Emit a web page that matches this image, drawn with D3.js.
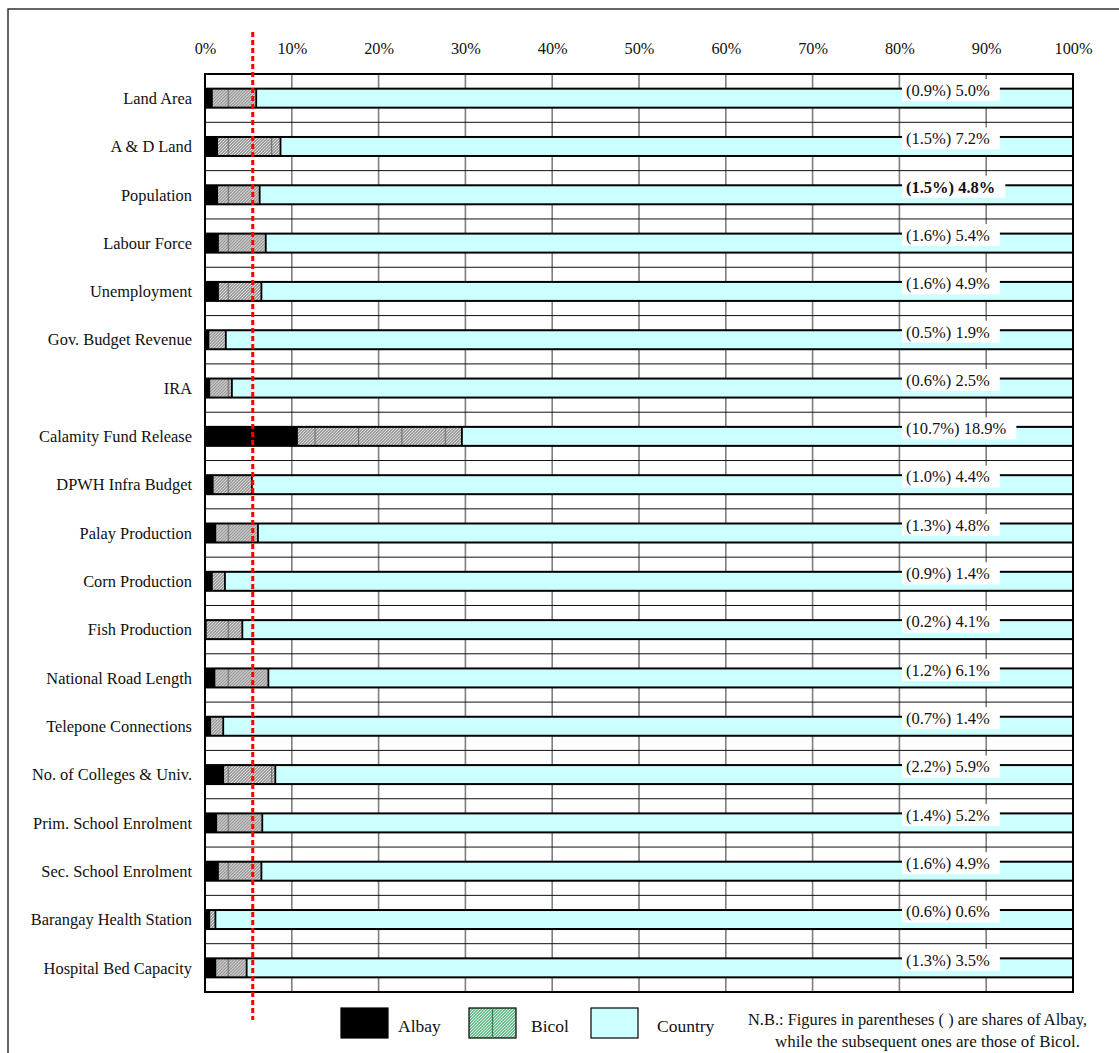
<!DOCTYPE html>
<html>
<head>
<meta charset="utf-8">
<script src="https://cdn.jsdelivr.net/npm/d3@7"></script>
<style>
  body { margin: 0; background: #fff; }
  svg { display: block; }
  text { font-family: "Liberation Serif", "Times New Roman", serif; fill: #111; }
</style>
</head>
<body>
<script>
// Indicators compared across Albay, the Bicol region and the whole country
const categories = [
  "Land Area", "A & D Land", "Population", "Labour Force", "Unemployment",
  "Gov. Budget Revenue", "IRA", "Calamity Fund Release", "DPWH Infra Budget",
  "Palay Production", "Corn Production", "Fish Production", "National Road Length",
  "Telepone Connections", "No. of Colleges & Univ.", "Prim. School Enrolment",
  "Sec. School Enrolment", "Barangay Health Station", "Hospital Bed Capacity"
];
// Share of national total held by Albay (%)
const albayShare = [0.9, 1.5, 1.5, 1.6, 1.6, 0.5, 0.6, 10.7, 1.0, 1.3, 0.9, 0.2, 1.2, 0.7, 2.2, 1.4, 1.6, 0.6, 1.3];
// Share of national total held by Bicol (%)
const bicolShare = [5.0, 7.2, 4.8, 5.4, 4.9, 1.9, 2.5, 18.9, 4.4, 4.8, 1.4, 4.1, 6.1, 1.4, 5.9, 5.2, 4.9, 0.6, 3.5];
// Row whose figures are emphasised
const emphasised = ["Population"];
// Axis ticks (%)
const xTicks = [0, 10, 20, 30, 40, 50, 60, 70, 80, 90, 100];
// Reference share marked by the red dotted line (%)
const referenceShare = 5.5;
const legendLabels = ["Albay", "Bicol", "Country"];
const noteLines = [
  "N.B.: Figures in parentheses ( ) are shares of Albay,",
  "while the subsequent ones are those of Bicol."
];

const W = 1119, H = 1053;
const svg = d3.select("body").append("svg").attr("width", W).attr("height", H);
const defs = svg.append("defs");

// Fine diagonal hatch used for the Bicol segments
const hatch = defs.append("pattern").attr("id", "hatchGray")
  .attr("patternUnits", "userSpaceOnUse").attr("width", 3).attr("height", 3);
hatch.append("rect").attr("width", 3).attr("height", 3).attr("fill", "#9c9c9c");
hatch.append("path").attr("d", "M-1,1 L1,-1 M0,3 L3,0 M2,4 L4,2")
  .attr("stroke", "#e6e6e6").attr("stroke-width", 0.9);

// Periodic vertical strokes seen through the hatch
const strokes = defs.append("pattern").attr("id", "hatchLines")
  .attr("patternUnits", "userSpaceOnUse").attr("width", 43.4).attr("height", 10)
  .attr("x", 227.7 - 43.4 * 5);
strokes.append("line").attr("x1", 0.5).attr("x2", 0.5).attr("y1", 0).attr("y2", 10)
  .attr("stroke", "#6e6e6e").attr("stroke-width", 1.3);

// Green hatch for the legend swatch
const hatchG = defs.append("pattern").attr("id", "hatchGreen")
  .attr("patternUnits", "userSpaceOnUse").attr("width", 3).attr("height", 3);
hatchG.append("rect").attr("width", 3).attr("height", 3).attr("fill", "#6fbf92");
hatchG.append("path").attr("d", "M-1,1 L1,-1 M0,3 L3,0 M2,4 L4,2")
  .attr("stroke", "#e4f7ea").attr("stroke-width", 0.9);

// Outer frame
svg.append("rect").attr("x", 8).attr("y", 9).attr("width", 1200).attr("height", 1100)
  .attr("fill", "none").attr("stroke", "#333").attr("stroke-width", 1.5);

const x = d3.scaleLinear().domain([0, 100]).range([205, 1073]);
const y = d3.scaleBand().domain(categories).range([74, 992]);
const barH = 19;

// Top axis labels
const axis = svg.append("g").attr("transform", "translate(0,74)")
  .call(d3.axisTop(x).tickValues(xTicks).tickFormat(d => d + "%").tickSize(0).tickPadding(0));
axis.select(".domain").remove();
axis.selectAll("text")
  .attr("y", -26).attr("dy", "0.35em")
  .style("font-family", '"Liberation Serif", "Times New Roman", serif')
  .style("font-size", "16.3px").attr("fill", "#111");

// Vertical gridlines
svg.append("g").selectAll("line").data(xTicks.slice(1, -1)).join("line")
  .attr("x1", d => x(d)).attr("x2", d => x(d))
  .attr("y1", y.range()[0]).attr("y2", y.range()[1])
  .attr("stroke", "#7f7f7f").attr("stroke-width", 1.6);

// Horizontal row boundaries
svg.append("g").selectAll("line").data(categories.slice(1)).join("line")
  .attr("x1", x(0)).attr("x2", x(100))
  .attr("y1", d => y(d)).attr("y2", d => y(d))
  .attr("stroke", "#111").attr("stroke-width", 1);

// Stacked bars
const rows = categories.map((c, i) => ({ c, a: albayShare[i], b: bicolShare[i] }));
const bars = svg.append("g").selectAll("g").data(rows).join("g")
  .attr("transform", d => `translate(0,${y(d.c) + y.bandwidth() / 2 - barH / 2})`);

bars.append("rect").attr("x", x(0)).attr("width", d => x(100) - x(0)).attr("height", barH)
  .attr("fill", "#ccffff");
bars.append("rect").attr("x", d => x(d.a)).attr("width", d => x(d.a + d.b) - x(d.a))
  .attr("height", barH).attr("fill", "url(#hatchGray)");
bars.append("rect").attr("x", d => x(d.a)).attr("width", d => x(d.a + d.b) - x(d.a))
  .attr("height", barH).attr("fill", "url(#hatchLines)");
bars.append("rect").attr("x", x(0)).attr("width", d => x(d.a) - x(0)).attr("height", barH)
  .attr("fill", "#000");
// Outline and divider between the Bicol and Country parts
bars.append("rect").attr("x", x(0)).attr("width", x(100) - x(0)).attr("height", barH)
  .attr("fill", "none").attr("stroke", "#000").attr("stroke-width", 2);
bars.append("line").attr("x1", d => x(d.a + d.b)).attr("x2", d => x(d.a + d.b))
  .attr("y1", 0).attr("y2", barH).attr("stroke", "#000").attr("stroke-width", 1.8);

// Plot border
svg.append("rect").attr("x", x(0)).attr("y", y.range()[0])
  .attr("width", x(100) - x(0)).attr("height", y.range()[1] - y.range()[0])
  .attr("fill", "none").attr("stroke", "#000").attr("stroke-width", 2);

// Category labels
svg.append("g").selectAll("text").data(categories).join("text")
  .attr("x", 192).attr("y", d => y(d) + y.bandwidth() / 2)
  .attr("dy", "0.35em").attr("text-anchor", "end")
  .style("font-size", "16.4px").text(d => d);

// Value labels with white backing boxes
const fmt = d3.format(".1f");
const labels = svg.append("g").selectAll("g").data(rows).join("g")
  .attr("transform", d => `translate(906,${y(d.c) + y.bandwidth() / 2 - 8})`);
labels.append("rect").attr("class", "bg").attr("fill", "#fff");
labels.append("text").attr("x", 0).attr("y", 0).attr("dy", "0.35em")
  .style("font-size", "16.5px")
  .style("font-weight", d => emphasised.includes(d.c) ? "bold" : "normal")
  .text(d => `(${fmt(d.a)}%) ${fmt(d.b)}%`);
labels.each(function () {
  const g = d3.select(this);
  const w = g.select("text").node().getComputedTextLength();
  g.select("rect.bg").attr("x", -4).attr("y", -11).attr("width", w + 14).attr("height", 22);
});

// Red dotted reference line
svg.append("line").attr("x1", x(referenceShare)).attr("x2", x(referenceShare))
  .attr("y1", 32).attr("y2", 1020)
  .attr("stroke", "#ff0000").attr("stroke-width", 3).attr("stroke-dasharray", "5,3");

// Legend
const legendFills = ["#000", "url(#hatchGreen)", "#ccffff"];
const legendX = [341, 469, 591];
const lg = svg.append("g").selectAll("g").data(legendLabels).join("g")
  .attr("transform", (d, i) => `translate(${legendX[i]},1008)`);
lg.append("rect").attr("width", 47).attr("height", 30)
  .attr("fill", (d, i) => legendFills[i]).attr("stroke", "#000").attr("stroke-width", 1.2);
lg.filter((d, i) => i === 1).append("line").attr("x1", 23.5).attr("x2", 23.5)
  .attr("y1", 0).attr("y2", 30).attr("stroke", "#2f7f55").attr("stroke-width", 1.2);
lg.append("text").attr("x", (d, i) => [57, 62, 66][i]).attr("y", 18).attr("dy", "0.35em")
  .style("font-size", "17.5px").text(d => d);

// Note
const noteX = [748, 775], noteLen = [339, 305];
svg.append("g").selectAll("text").data(noteLines).join("text")
  .attr("x", (d, i) => noteX[i]).attr("y", (d, i) => 1019 + i * 22)
  .attr("dy", "0.35em").style("font-size", "16.2px")
  .attr("textLength", (d, i) => noteLen[i]).attr("lengthAdjust", "spacingAndGlyphs")
  .text(d => d);
</script>
</body>
</html>
